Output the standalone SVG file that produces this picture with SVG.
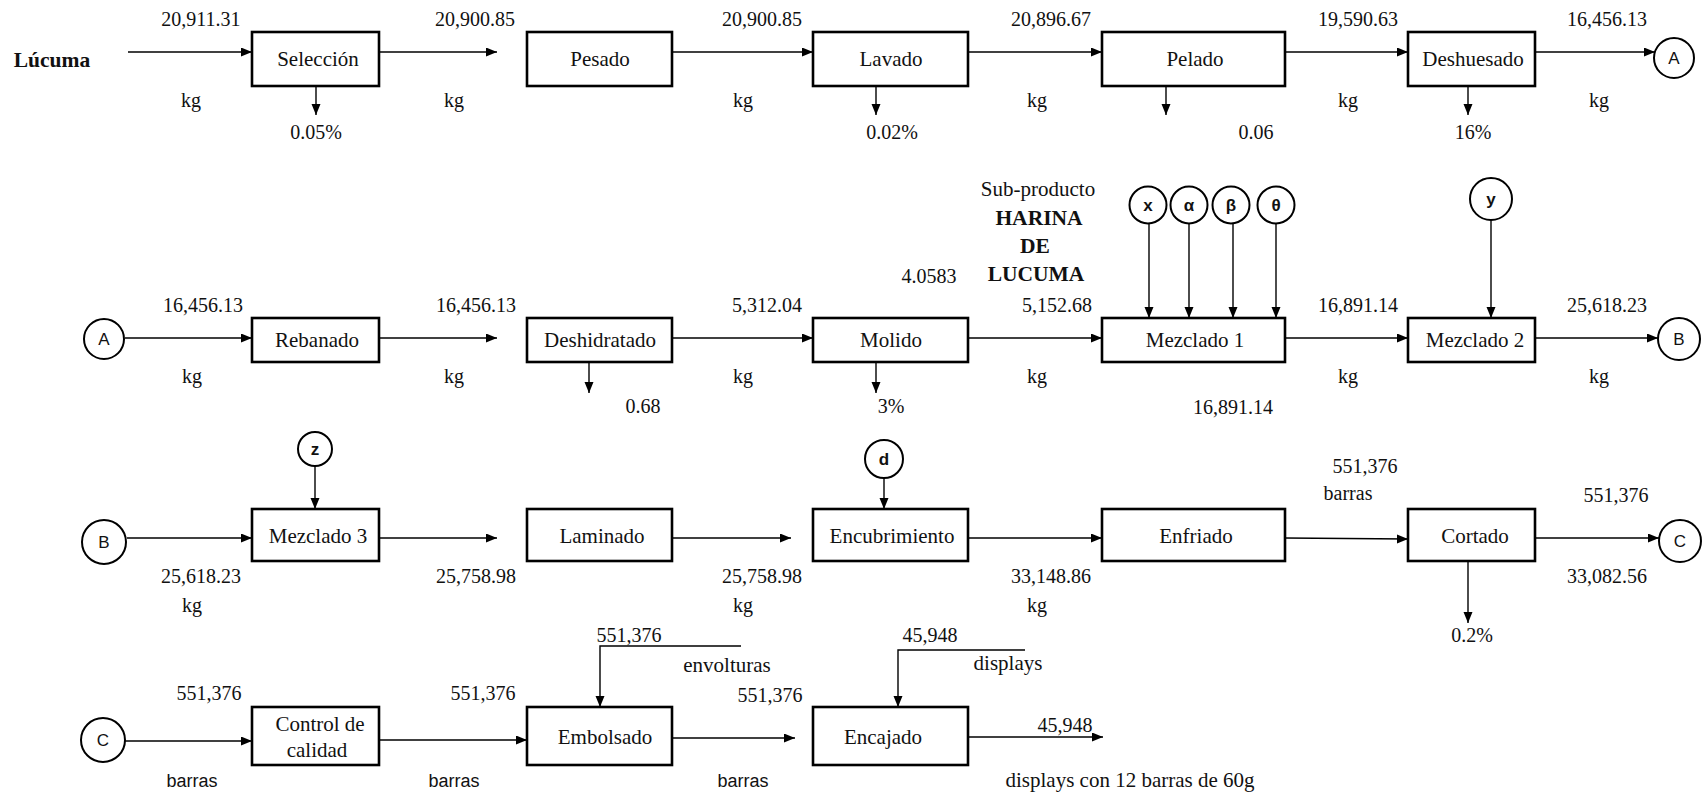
<svg xmlns="http://www.w3.org/2000/svg" width="1703" height="795" viewBox="0 0 1703 795">
  <style>
    .box { fill: #fff; stroke: #000; stroke-width: 2.6; }
    .ref { fill: #fff; stroke: #000; stroke-width: 2; }
    .conn { fill: none; stroke: #000; stroke-width: 1.4; marker-end: url(#ah); }
    .lbl { font-family: "Liberation Serif", "Times New Roman", serif; font-size: 21px; text-anchor: middle; fill: #111; }
    .num { font-family: "Liberation Serif", "Times New Roman", serif; font-size: 20px; text-anchor: middle; fill: #111; }
    .note { font-family: "Liberation Serif", "Times New Roman", serif; font-size: 21px; text-anchor: middle; fill: #111; }
    .bold { font-family: "Liberation Serif", "Times New Roman", serif; font-size: 21.5px; font-weight: bold; text-anchor: middle; fill: #111; }
    .sans { font-family: "Liberation Sans", Arial, sans-serif; font-size: 18px; text-anchor: middle; fill: #111; }
    .ltr { font-family: "Liberation Sans", Arial, sans-serif; font-size: 17px; text-anchor: middle; fill: #111; }
    .sym { font-family: "Liberation Sans", "DejaVu Sans", sans-serif; font-size: 17px; font-weight: bold; text-anchor: middle; fill: #111; }
  </style>
  <defs>
    <marker id="ah" markerUnits="userSpaceOnUse" markerWidth="12" markerHeight="10" refX="11" refY="4.5" orient="auto">
      <path d="M0,0 L11,4.5 L0,9 z" fill="#000"/>
    </marker>
  </defs>
  <rect width="1703" height="795" fill="#fff"/>

  <!-- connectors -->
  <g id="connectors">
    <!-- row 1 -->
    <line class="conn" x1="128" y1="52" x2="252" y2="52"/>
    <line class="conn" x1="379" y1="52" x2="497" y2="52"/>
    <line class="conn" x1="672" y1="52" x2="813" y2="52"/>
    <line class="conn" x1="968" y1="52" x2="1102" y2="52"/>
    <line class="conn" x1="1285" y1="52" x2="1408" y2="52"/>
    <line class="conn" x1="1535" y1="52" x2="1655" y2="52"/>
    <line class="conn" x1="316" y1="86" x2="316" y2="115"/>
    <line class="conn" x1="876" y1="86" x2="876" y2="115"/>
    <line class="conn" x1="1166" y1="86" x2="1166" y2="115"/>
    <line class="conn" x1="1468" y1="86" x2="1468" y2="115"/>
    <!-- row 2 -->
    <line class="conn" x1="125" y1="338" x2="252" y2="338"/>
    <line class="conn" x1="379" y1="338" x2="497" y2="338"/>
    <line class="conn" x1="672" y1="338" x2="813" y2="338"/>
    <line class="conn" x1="968" y1="338" x2="1102" y2="338"/>
    <line class="conn" x1="1285" y1="338" x2="1408" y2="338"/>
    <line class="conn" x1="1535" y1="338" x2="1658" y2="338"/>
    <line class="conn" x1="589" y1="362" x2="589" y2="393"/>
    <line class="conn" x1="876" y1="362" x2="876" y2="393"/>
    <line class="conn" x1="1149" y1="223" x2="1149" y2="318"/>
    <line class="conn" x1="1189" y1="223" x2="1189" y2="318"/>
    <line class="conn" x1="1233" y1="223" x2="1233" y2="318"/>
    <line class="conn" x1="1276" y1="223" x2="1276" y2="318"/>
    <line class="conn" x1="1491" y1="220" x2="1491" y2="318"/>
    <!-- row 3 -->
    <line class="conn" x1="127" y1="538" x2="252" y2="538"/>
    <line class="conn" x1="379" y1="538" x2="497" y2="538"/>
    <line class="conn" x1="672" y1="538" x2="791" y2="538"/>
    <line class="conn" x1="968" y1="538" x2="1102" y2="538"/>
    <line class="conn" x1="1285" y1="538" x2="1408" y2="539"/>
    <line class="conn" x1="1535" y1="538" x2="1659" y2="538"/>
    <line class="conn" x1="315" y1="466" x2="315" y2="509"/>
    <line class="conn" x1="884" y1="478" x2="884" y2="509"/>
    <line class="conn" x1="1468" y1="561" x2="1468" y2="623"/>
    <!-- row 4 -->
    <line class="conn" x1="125" y1="741" x2="252" y2="741"/>
    <line class="conn" x1="379" y1="740" x2="527" y2="740"/>
    <line class="conn" x1="672" y1="738" x2="795" y2="738"/>
    <line class="conn" x1="968" y1="737" x2="1103" y2="737"/>
    <polyline class="conn" points="741,646 600,646 600,707"/>
    <polyline class="conn" points="1025,650 898,650 898,707"/>
  </g>

  <!-- row 1 -->
  <g id="lucuma"><text class="bold" x="52" y="67">Lúcuma</text></g>
  <g id="seleccion"><rect class="box" x="252" y="32" width="127" height="54"/><text class="lbl" x="318" y="66">Selección</text></g>
  <g id="pesado"><rect class="box" x="527" y="32" width="145" height="54"/><text class="lbl" x="600" y="66">Pesado</text></g>
  <g id="lavado"><rect class="box" x="813" y="32" width="155" height="54"/><text class="lbl" x="891" y="66">Lavado</text></g>
  <g id="pelado"><rect class="box" x="1102" y="32" width="183" height="54"/><text class="lbl" x="1195" y="66">Pelado</text></g>
  <g id="deshuesado"><rect class="box" x="1408" y="32" width="127" height="54"/><text class="lbl" x="1473" y="66">Deshuesado</text></g>
  <g id="conector-a1"><circle class="ref" cx="1674" cy="58" r="20"/><text class="ltr" x="1674" y="64">A</text></g>
  <g id="row1-values">
    <text class="num" x="201" y="26">20,911.31</text>
    <text class="num" x="475" y="26">20,900.85</text>
    <text class="num" x="762" y="26">20,900.85</text>
    <text class="num" x="1051" y="26">20,896.67</text>
    <text class="num" x="1358" y="26">19,590.63</text>
    <text class="num" x="1607" y="26">16,456.13</text>
    <text class="num" x="191" y="107">kg</text>
    <text class="num" x="454" y="107">kg</text>
    <text class="num" x="743" y="107">kg</text>
    <text class="num" x="1037" y="107">kg</text>
    <text class="num" x="1348" y="107">kg</text>
    <text class="num" x="1599" y="107">kg</text>
    <text class="num" x="316" y="139">0.05%</text>
    <text class="num" x="892" y="139">0.02%</text>
    <text class="num" x="1256" y="139">0.06</text>
    <text class="num" x="1473" y="139">16%</text>
  </g>

  <!-- row 2 -->
  <g id="conector-a2"><circle class="ref" cx="104" cy="339" r="20"/><text class="ltr" x="104" y="345">A</text></g>
  <g id="rebanado"><rect class="box" x="252" y="318" width="127" height="44"/><text class="lbl" x="317" y="347">Rebanado</text></g>
  <g id="deshidratado"><rect class="box" x="527" y="318" width="145" height="44"/><text class="lbl" x="600" y="347">Deshidratado</text></g>
  <g id="molido"><rect class="box" x="813" y="318" width="155" height="44"/><text class="lbl" x="891" y="347">Molido</text></g>
  <g id="mezclado1"><rect class="box" x="1102" y="318" width="183" height="44"/><text class="lbl" x="1195" y="347">Mezclado 1</text></g>
  <g id="mezclado2"><rect class="box" x="1408" y="318" width="127" height="44"/><text class="lbl" x="1475" y="347">Mezclado 2</text></g>
  <g id="conector-b1"><circle class="ref" cx="1679" cy="339" r="21"/><text class="ltr" x="1679" y="345">B</text></g>
  <g id="insumo-x"><circle class="ref" cx="1148" cy="205" r="18.5"/><text class="sym" x="1148" y="211">x</text></g>
  <g id="insumo-alfa"><circle class="ref" cx="1189" cy="205" r="18.5"/><text class="sym" x="1189" y="211">α</text></g>
  <g id="insumo-beta"><circle class="ref" cx="1231" cy="205" r="18.5"/><text class="sym" x="1231" y="211">β</text></g>
  <g id="insumo-theta"><circle class="ref" cx="1276" cy="205" r="18.5"/><text class="sym" x="1276" y="211">θ</text></g>
  <g id="insumo-y"><circle class="ref" cx="1491" cy="199" r="21"/><text class="sym" x="1491" y="205">y</text></g>
  <g id="subproducto">
    <text class="lbl" x="1038" y="196">Sub-producto</text>
    <text class="bold" x="1039" y="225">HARINA</text>
    <text class="bold" x="1035" y="253">DE</text>
    <text class="bold" x="1036" y="281">LUCUMA</text>
  </g>
  <g id="row2-values">
    <text class="num" x="203" y="312">16,456.13</text>
    <text class="num" x="476" y="312">16,456.13</text>
    <text class="num" x="767" y="312">5,312.04</text>
    <text class="num" x="1057" y="312">5,152.68</text>
    <text class="num" x="1358" y="312">16,891.14</text>
    <text class="num" x="1607" y="312">25,618.23</text>
    <text class="num" x="929" y="283">4.0583</text>
    <text class="num" x="192" y="383">kg</text>
    <text class="num" x="454" y="383">kg</text>
    <text class="num" x="743" y="383">kg</text>
    <text class="num" x="1037" y="383">kg</text>
    <text class="num" x="1348" y="383">kg</text>
    <text class="num" x="1599" y="383">kg</text>
    <text class="num" x="643" y="413">0.68</text>
    <text class="num" x="891" y="413">3%</text>
    <text class="num" x="1233" y="414">16,891.14</text>
  </g>

  <!-- row 3 -->
  <g id="conector-b2"><circle class="ref" cx="104" cy="542" r="22"/><text class="ltr" x="104" y="548">B</text></g>
  <g id="insumo-z"><circle class="ref" cx="315" cy="449" r="17"/><text class="sym" x="315" y="455">z</text></g>
  <g id="mezclado3"><rect class="box" x="252" y="509" width="127" height="52"/><text class="lbl" x="318" y="543">Mezclado 3</text></g>
  <g id="laminado"><rect class="box" x="527" y="509" width="145" height="52"/><text class="lbl" x="602" y="543">Laminado</text></g>
  <g id="insumo-d"><circle class="ref" cx="884" cy="459" r="19"/><text class="sym" x="884" y="465">d</text></g>
  <g id="encubrimiento"><rect class="box" x="813" y="509" width="155" height="52"/><text class="lbl" x="892" y="543">Encubrimiento</text></g>
  <g id="enfriado"><rect class="box" x="1102" y="509" width="183" height="52"/><text class="lbl" x="1196" y="543">Enfriado</text></g>
  <g id="cortado"><rect class="box" x="1408" y="509" width="127" height="52"/><text class="lbl" x="1475" y="543">Cortado</text></g>
  <g id="conector-c1"><circle class="ref" cx="1680" cy="541" r="21"/><text class="ltr" x="1680" y="547">C</text></g>
  <g id="row3-values">
    <text class="num" x="201" y="583">25,618.23</text>
    <text class="num" x="192" y="612">kg</text>
    <text class="num" x="476" y="583">25,758.98</text>
    <text class="num" x="762" y="583">25,758.98</text>
    <text class="num" x="743" y="612">kg</text>
    <text class="num" x="1051" y="583">33,148.86</text>
    <text class="num" x="1037" y="612">kg</text>
    <text class="num" x="1365" y="473">551,376</text>
    <text class="num" x="1348" y="500">barras</text>
    <text class="num" x="1616" y="502">551,376</text>
    <text class="num" x="1607" y="583">33,082.56</text>
    <text class="num" x="1472" y="642">0.2%</text>
  </g>

  <!-- row 4 -->
  <g id="conector-c2"><circle class="ref" cx="103" cy="740" r="22"/><text class="ltr" x="103" y="746">C</text></g>
  <g id="control-calidad"><rect class="box" x="252" y="707" width="127" height="58"/><text class="lbl" x="320" y="731">Control de</text><text class="lbl" x="317" y="757">calidad</text></g>
  <g id="embolsado"><rect class="box" x="527" y="707" width="145" height="58"/><text class="lbl" x="605" y="744">Embolsado</text></g>
  <g id="encajado"><rect class="box" x="813" y="707" width="155" height="58"/><text class="lbl" x="883" y="744">Encajado</text></g>
  <g id="row4-values">
    <text class="num" x="209" y="700">551,376</text>
    <text class="sans" x="192" y="787">barras</text>
    <text class="num" x="483" y="700">551,376</text>
    <text class="sans" x="454" y="787">barras</text>
    <text class="num" x="629" y="642">551,376</text>
    <text class="note" x="727" y="672">envolturas</text>
    <text class="num" x="770" y="702">551,376</text>
    <text class="sans" x="743" y="787">barras</text>
    <text class="num" x="930" y="642">45,948</text>
    <text class="note" x="1008" y="670">displays</text>
    <text class="num" x="1065" y="732">45,948</text>
    <text class="note" x="1130" y="787">displays con 12 barras de 60g</text>
  </g>
</svg>
